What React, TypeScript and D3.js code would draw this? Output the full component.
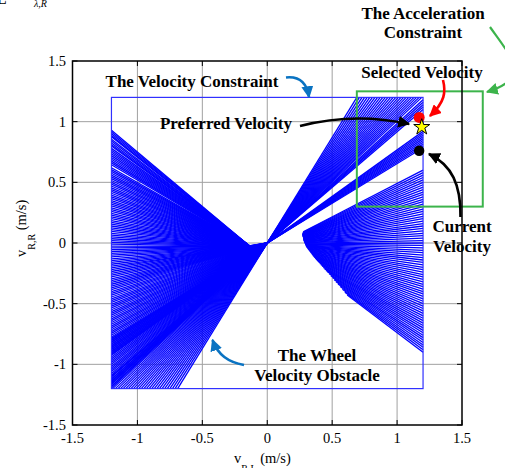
import React from "react";
import * as d3 from "d3";

// axis ticks
const ticks = [-1.5, -1, -0.5, 0, 0.5, 1, 1.5];
const tickLabels = ["-1.5", "-1", "-0.5", "0", "0.5", "1", "1.5"];

// constraint boxes [xmin, xmax, ymin, ymax]
const velocityBox = [-1.2, 1.2, -1.2, 1.2];
const accelBox = [0.69, 1.66, 0.3, 1.25];

// velocities
const selectedVel = [1.17, 1.035];
const preferredVel = [1.19, 0.955];
const currentVel = [1.17, 0.76];

// wheel velocity obstacle: line families
const leftPivot = [-0.13, -0.03];
const leftUpperY = [
  0.93, 0.915, 0.9, 0.885, 0.875, 0.855, 0.84, 0.825, 0.81, 0.8, 0.78, 0.765, 0.75, 0.735,
  0.72, 0.705, 0.69, 0.675, 0.66, 0.645, 0.62, 0.605, 0.59, 0.575, 0.56, 0.545, 0.53, 0.515,
  0.5, 0.485, 0.47, 0.455, 0.44, 0.425, 0.41, 0.395, 0.38, 0.365, 0.35, 0.335, 0.32, 0.305,
  0.29, 0.275, 0.26, 0.245, 0.23, 0.215, 0.2, 0.185, 0.17, 0.155, 0.14, 0.125, 0.11, 0.095,
  0.08, 0.065, 0.05, 0.035, 0.02, 0.005, -0.01, -0.025, -0.04, -0.055, -0.07, -0.085, -0.1,
  -0.115, -0.13, -0.145, -0.16, -0.175, -0.19,
];
const leftLowerY = [
  -0.205, -0.22, -0.235, -0.25, -0.265, -0.28, -0.295, -0.31, -0.325, -0.34,
  -0.355, -0.37, -0.385, -0.4, -0.415, -0.43, -0.445, -0.46, -0.475, -0.49, -0.505, -0.52,
  -0.535, -0.55, -0.565, -0.58, -0.595, -0.61, -0.625, -0.64, -0.655, -0.67, -0.685, -0.7,
  -0.715, -0.73, -0.745, -0.76, -0.775, -0.79, -0.805, -0.82, -0.835, -0.85, -0.865, -0.88,
  -0.895, -0.91, -0.925, -0.94, -0.955, -0.97, -0.985, -1.0, -1.015, -1.03, -1.045, -1.06,
  -1.075, -1.09, -1.105, -1.12, -1.135, -1.15, -1.165, -1.18, -1.195,
];
const wedgeTopX = [
  0.69, 0.71, 0.73, 0.75, 0.77, 0.79, 0.81, 0.83, 0.85, 0.87, 0.89, 0.91, 0.93, 0.95, 0.97,
  0.99, 1.01, 1.03, 1.05, 1.07, 1.09, 1.11, 1.13, 1.15, 1.17, 1.19,
];
const wedgeRightY = [1.18, 1.16, 1.14, 1.12, 1.1];
const wedge2RightY = [0.92, 0.905, 0.89, 0.875, 0.86, 0.845, 0.83, 0.815, 0.8, 0.785];
const lowerRightPivot = [0.095, -0.008];
const lowerRightY = [
  0.6, 0.58, 0.56, 0.54, 0.52, 0.5, 0.48, 0.46, 0.44, 0.42, 0.4, 0.38, 0.36, 0.34, 0.32, 0.3,
  0.28, 0.26, 0.24, 0.22, 0.2, 0.18, 0.16, 0.14, 0.12, 0.1, 0.08, 0.06, 0.04, 0.02, 0, -0.02,
  -0.04, -0.06, -0.08, -0.1, -0.12, -0.14, -0.16, -0.18, -0.2, -0.22, -0.24, -0.26, -0.28,
  -0.3, -0.32, -0.34, -0.36, -0.38, -0.4, -0.42, -0.44, -0.46, -0.48, -0.5, -0.52, -0.54,
  -0.56, -0.58, -0.6, -0.62, -0.64, -0.66, -0.68, -0.7, -0.72, -0.74, -0.76, -0.78, -0.8,
  -0.82, -0.84, -0.86, -0.88, -0.9,
];
// left edge of the lower-right region
const envelope = [
  [0.4, 0.2], [0.28, 0.1], [0.27, 0.07], [0.28, 0.02], [0.3, -0.03], [0.36, -0.115],
  [0.49, -0.27], [0.61, -0.42], [0.7, -0.55], [0.9, -0.85],
];

function hitEnvelope(p: number[], e: number[]) {
  const dx = e[0] - p[0], dy = e[1] - p[1];
  let best = 1;
  for (let i = 0; i < envelope.length - 1; i++) {
    const [ax, ay] = envelope[i];
    const [bx, by] = envelope[i + 1];
    const ex = bx - ax, ey = by - ay;
    const den = dx * ey - dy * ex;
    if (Math.abs(den) < 1e-9) continue;
    const t = ((ax - p[0]) * ey - (ay - p[1]) * ex) / den;
    const s = ((ax - p[0]) * dy - (ay - p[1]) * dx) / den;
    if (s >= 0 && s <= 1 && t >= 0 && t < best) best = t;
  }
  return [p[0] + best * dx, p[1] + best * dy];
}

const serif = "'Liberation Serif', 'Times New Roman', serif";

function Marker({ id, color, size }: { id: string; color: string; size: number }) {
  return (
    <marker
      id={id}
      viewBox="0 0 10 10"
      refX={9}
      refY={5}
      markerWidth={size}
      markerHeight={size}
      markerUnits="userSpaceOnUse"
      orient="auto"
    >
      <path d="M0,0 L10,5 L0,10 Z" fill={color} />
    </marker>
  );
}

export default function App() {
  const x = d3.scaleLinear().domain([-1.5, 1.5]).range([72.5, 462]);
  const y = d3.scaleLinear().domain([-1.5, 1.5]).range([425, 61]);
  const [x0, x1] = x.range();
  const [y0, y1] = y.range();

  const segs: number[][] = [];
  leftUpperY.forEach((v) => segs.push([-1.2, v, leftPivot[0], leftPivot[1]]));
  leftLowerY.forEach((v) => segs.push([-1.2, v, 0, 0]));
  wedgeTopX.forEach((v) => segs.push([-v, -1.2, v, 1.2]));
  wedgeRightY.forEach((v) => segs.push([-1.2, -v, 1.2, v]));
  wedge2RightY.forEach((v) => segs.push([-1.2, -v, 1.2, v]));
  lowerRightY.forEach((v) => {
    const s = hitEnvelope(lowerRightPivot, [1.2, v]);
    segs.push([s[0], s[1], 1.2, v]);
  });

  const star = d3.symbol(d3.symbolStar, 80)();

  return (
    <svg
      width={505}
      height={468}
      style={{ position: "absolute", left: 0, top: 0, background: "#fff" }}
      fontFamily={serif}
    >
      <defs>
        <Marker id="hBlue" color="#0a73c2" size={12} />
        <Marker id="hGreen" color="#3cb44b" size={12} />
        <Marker id="hRed" color="#ff0000" size={12} />
        <Marker id="hBlack" color="#000" size={12} />
      </defs>

      {/* cropped caption text at the very top */}
      <text x={-3} y={4} fontSize={16}>L</text>
      <text x={34} y={7} fontSize={10} fontStyle="italic">λ,R</text>

      {/* grid */}
      {ticks.slice(1, -1).map((t) => (
        <g key={t}>
          <line x1={x(t)} x2={x(t)} y1={y1} y2={y0} stroke="#a0a0a0" strokeWidth={1} />
          <line x1={x0} x2={x1} y1={y(t)} y2={y(t)} stroke="#a0a0a0" strokeWidth={1} />
        </g>
      ))}

      {/* wheel velocity obstacle */}
      <g stroke="#0000ff" strokeWidth={1.3}>
        {segs.map((s, i) => (
          <line key={i} x1={x(s[0])} y1={y(s[1])} x2={x(s[2])} y2={y(s[3])} />
        ))}
      </g>

      {/* velocity constraint */}
      <rect
        x={x(velocityBox[0])}
        y={y(velocityBox[3])}
        width={x(velocityBox[1]) - x(velocityBox[0])}
        height={y(velocityBox[2]) - y(velocityBox[3])}
        fill="none"
        stroke="#3030ff"
        strokeWidth={1.2}
      />
      {/* acceleration constraint */}
      <rect
        x={x(accelBox[0])}
        y={y(accelBox[3])}
        width={x(accelBox[1]) - x(accelBox[0])}
        height={y(accelBox[2]) - y(accelBox[3])}
        fill="none"
        stroke="#3cb44b"
        strokeWidth={2}
      />

      {/* axes box and ticks */}
      <rect x={x0} y={y1} width={x1 - x0} height={y0 - y1} fill="none" stroke="#000" strokeWidth={1.5} />
      {ticks.map((t) => (
        <g key={"t" + t} stroke="#000" strokeWidth={1}>
          <line x1={x(t)} x2={x(t)} y1={y0} y2={y0 - 5} />
          <line x1={x(t)} x2={x(t)} y1={y1} y2={y1 + 5} />
          <line x1={x0} x2={x0 + 5} y1={y(t)} y2={y(t)} />
          <line x1={x1} x2={x1 - 5} y1={y(t)} y2={y(t)} />
        </g>
      ))}
      {ticks.map((t, i) => (
        <text key={"xl" + t} x={x(t)} y={443} fontSize={14.5} textAnchor="middle">
          {tickLabels[i]}
        </text>
      ))}
      {ticks.map((t, i) => (
        <text key={"yl" + t} x={66} y={y(t)} dy="0.35em" fontSize={14.5} textAnchor="end">
          {tickLabels[i]}
        </text>
      ))}

      {/* axis titles */}
      <text x={234} y={463} fontSize={14.5}>
        v<tspan dy={9} fontSize={10}>R,L</tspan>
        <tspan dy={-9}> (m/s)</tspan>
      </text>
      <text transform="translate(26,257) rotate(-90)" fontSize={14.5}>
        v<tspan dy={9} fontSize={10}>R,R</tspan>
        <tspan dy={-9}> (m/s)</tspan>
      </text>

      {/* velocities */}
      <circle cx={x(selectedVel[0])} cy={y(selectedVel[1])} r={5.5} fill="#ff0000" />
      <circle cx={x(currentVel[0])} cy={y(currentVel[1])} r={5.2} fill="#000" />
      <path
        d={star || ""}
        transform={`translate(${x(preferredVel[0])},${y(preferredVel[1])})`}
        fill="#ffff00"
        stroke="#000"
        strokeWidth={1}
      />

      {/* arrows */}
      <g fill="none" strokeWidth={2.6}>
        <path d="M286,77.5 C300,76 307,84 309,97" stroke="#0a73c2" markerEnd="url(#hBlue)" />
        <path d="M244,365 C228,362 218,355 212.5,340" stroke="#0a73c2" markerEnd="url(#hBlue)" />
        <path d="M490,27 C512,58 532,78 487,92" stroke="#3cb44b" strokeWidth={2.2} markerEnd="url(#hGreen)" />
        <path d="M443,80 C446,92 445,102 430,116" stroke="#ff0000" markerEnd="url(#hRed)" />
        <path d="M300,126 Q355,112 409,124" stroke="#000" markerEnd="url(#hBlack)" />
        <path d="M460.5,217 C461,185 452,165 429,154" stroke="#000" markerEnd="url(#hBlack)" />
      </g>

      {/* annotations */}
      <g fontSize={17} fontWeight="bold" textAnchor="middle">
        <text x={423} y={18.5}>The Acceleration</text>
        <text x={423} y={38}>Constraint</text>
        <text x={422} y={78}>Selected Velocity</text>
        <text x={192} y={87}>The Velocity Constraint</text>
        <text x={226} y={129}>Preferred Velocity</text>
        <text x={462} y={232}>Current</text>
        <text x={462} y={251.5}>Velocity</text>
        <text x={317} y={360.5}>The Wheel</text>
        <text x={317} y={380.5}>Velocity Obstacle</text>
      </g>
    </svg>
  );
}
